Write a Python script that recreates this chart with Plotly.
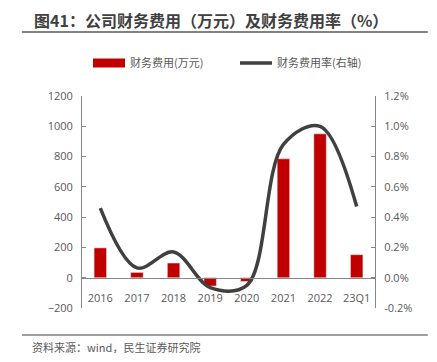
import plotly.graph_objects as go

categories = ["2016", "2017", "2018", "2019", "2020", "2021", "2022", "23Q1"]
expense = [197, 35, 97, -55, -25, 785, 950, 152]          # 万元
expense_rate = [0.46, 0.065, 0.17, -0.065, -0.05, 0.88, 1.0, 0.47]  # %

left_ticks = [-200, 0, 200, 400, 600, 800, 1000, 1200]
right_ticks = [-0.2, 0.0, 0.2, 0.4, 0.6, 0.8, 1.0, 1.2]
right_labels = [f"{v:.1f}%" for v in right_ticks]

RED = "#C00000"
LINE = "#404040"
AX = "#868686"
TXT = "#595959"
CJK = "Noto Sans CJK SC"
NUM = "Open Sans, Liberation Sans, sans-serif"

fig = go.Figure()
fig.add_trace(go.Bar(x=categories, y=expense, marker_color=RED, showlegend=False,
                     name="财务费用(万元)", yaxis="y"))
fig.add_trace(go.Scatter(x=categories, y=expense_rate, mode="lines",
                         line=dict(color=LINE, width=3.5, shape="spline", smoothing=1.0),
                         showlegend=False, name="财务费用率(右轴)", yaxis="y2"))
# legend entries
fig.add_trace(go.Scatter(x=[None], y=[None], mode="lines", line=dict(color=RED, width=9),
                         name="财务费用(万元)"))
fig.add_trace(go.Scatter(x=[None], y=[None], mode="lines", line=dict(color=LINE, width=3.5),
                         name="财务费用率(右轴)", yaxis="y2"))

zero_pos = (0 - left_ticks[0]) / (left_ticks[-1] - left_ticks[0])

fig.update_layout(
    width=437, height=362,
    margin=dict(l=82, r=62, t=96, b=54),
    paper_bgcolor="white", plot_bgcolor="white",
    bargap=0.66,
    font=dict(family=NUM, size=11, color=TXT),
    xaxis=dict(type="category", anchor="free", position=zero_pos, automargin=False,
               showline=True, linecolor=AX, linewidth=1, ticks="",
               showgrid=False, zeroline=False, ticklabelstandoff=10,
               tickfont=dict(family=NUM, size=11, color=TXT)),
    yaxis=dict(range=[left_ticks[0], left_ticks[-1]], tickvals=left_ticks, automargin=False,
               showgrid=False, zeroline=False, showline=True, linecolor=AX, linewidth=1,
               ticks="inside", ticklen=4, tickcolor=AX, ticklabelstandoff=6,
               tickfont=dict(family=NUM, size=11, color=TXT)),
    yaxis2=dict(range=[right_ticks[0], right_ticks[-1]], tickvals=right_ticks,
                ticktext=right_labels, automargin=False,
                overlaying="y", side="right",
                showgrid=False, zeroline=False, showline=True, linecolor=AX, linewidth=1,
                ticks="inside", ticklen=4, tickcolor=AX, ticklabelstandoff=6,
                tickfont=dict(family=NUM, size=11, color=TXT)),
    legend=dict(orientation="h", x=88 / 437, xref="container", xanchor="left",
                y=1 - 63 / 362, yref="container", yanchor="middle",
                font=dict(family=CJK, size=11, color=TXT),
                itemwidth=32, entrywidth=100, tracegroupgap=0, bgcolor="rgba(0,0,0,0)"),
    shapes=[
        dict(type="line", xref="paper", yref="paper", x0=-0.205, x1=1.18,
             y0=1 + (96 - 32) / 212, y1=1 + (96 - 32) / 212,
             line=dict(color="#595959", width=1.5)),
        dict(type="line", xref="paper", yref="paper", x0=-0.205, x1=1.18,
             y0=-(335 - 308) / 212, y1=-(335 - 308) / 212,
             line=dict(color="#7f7f7f", width=1.5)),
    ],
    annotations=[
        dict(text="<b>图41：公司财务费用（万元）及财务费用率（%）</b>", xref="paper", yref="paper",
             x=-0.17, y=1 + (96 - 20) / 212, xanchor="left", yanchor="middle",
             showarrow=False, font=dict(family=CJK, size=16, color="#404040")),
        dict(text="资料来源：wind，民生证券研究院", xref="paper", yref="paper",
             x=-0.178, y=-(347 - 308) / 212, xanchor="left", yanchor="middle",
             showarrow=False, font=dict(family=CJK, size=11, color=TXT)),
    ],
)

fig.write_html("out.html", config={"displayModeBar": False},
               post_script="document.body.style.margin='0px';document.body.style.overflow='hidden';")
